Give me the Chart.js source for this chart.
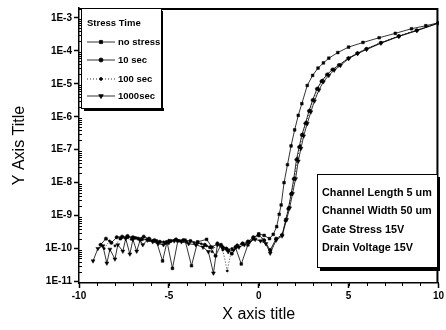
<!DOCTYPE html>
<html>
<head>
<meta charset="utf-8">
<script src="https://cdn.jsdelivr.net/npm/chart.js@4/dist/chart.umd.min.js"></script>
<style>
  html, body { margin: 0; padding: 0; background: #fff; }
  #wrap { width: 446px; height: 330px; }
</style>
</head>
<body>
<div id="wrap"><canvas id="ivChart" width="446" height="330"></canvas></div>
<script>
// tick labels
const yTickValues = [1e-11, 1e-10, 1e-9, 1e-8, 1e-7, 1e-6, 1e-5, 1e-4, 1e-3];
const yTickLabels = ['1E-11', '1E-10', '1E-9', '1E-8', '1E-7', '1E-6', '1E-5', '1E-4', '1E-3'];

const seriesNames = ['no stress', '10 sec', '100 sec', '1000sec'];
const infoLines = ['Channel Length 5 um', 'Channel Width 50 um', 'Gate Stress 15V', 'Drain Voltage 15V'];

// no stress
const noStressX = [-7.7, -7.3, -6.9, -6.5, -6.1, -5.7, -5.35, -5.1, -4.8, -4.5,
  -4.1, -3.74, -3.4, -2.9, -2.6, -2.3, -2.0, -1.7, -1.3, -0.97,
  -0.6, -0.3, 0.0, 0.3, 0.6, 0.81, 1.0, 1.14, 1.25, 1.41,
  1.6, 1.8, 2.0, 2.2, 2.4, 2.7, 3.0, 3.3, 3.6, 3.9,
  4.4, 5.0, 5.8, 6.7, 7.6, 8.5, 9.3, 10];
const noStressY = [2.0e-10, 2.2e-10, 2.1e-10, 1.9e-10, 1.8e-10, 1.7e-10, 4.2e-11, 1.6e-10, 2.5e-11, 1.7e-10,
  1.8e-10, 3.0e-11, 1.6e-10, 1.9e-10, 1.1e-10, 1.4e-10, 1.1e-10, 9.0e-11, 1.1e-10, 3.4e-11,
  1.3e-10, 2.0e-10, 2.8e-10, 2.5e-10, 2.0e-10, 2.7e-10, 4.6e-10, 1.1e-9, 2.1e-9, 1.0e-8,
  3.5e-8, 1.3e-7, 4.0e-7, 1.1e-6, 2.5e-6, 8.9e-6, 1.8e-5, 3.0e-5, 4.3e-5, 6.0e-5,
  8.9e-5, 1.3e-4, 1.8e-4, 2.5e-4, 3.4e-4, 4.7e-4, 5.8e-4, 7.1e-4];

// 10 sec
const sec10X = [-8.8, -8.5, -8.2, -7.9, -7.6, -7.3, -7.0, -6.7, -6.4, -6.1,
  -5.8, -5.5, -5.2, -4.9, -4.6, -4.2, -3.8, -3.4, -3.0, -2.7,
  -2.4, -2.1, -1.8, -1.5, -1.2, -0.9, -0.6, -0.3, 0.0, 0.3,
  0.64, 0.97, 1.3, 1.5, 1.65, 1.8, 1.95, 2.1, 2.25, 2.4,
  2.6, 2.8, 3.0, 3.24, 3.5, 3.8, 4.1, 4.46, 5.0, 5.5,
  6.0, 6.8, 7.8, 8.8, 10];
const sec10Y = [1.3e-10, 2.0e-10, 1.5e-10, 2.2e-10, 2.3e-10, 2.4e-10, 2.2e-10, 2.0e-10, 2.3e-10, 2.0e-10,
  1.8e-10, 1.6e-10, 1.5e-10, 1.7e-10, 1.9e-10, 1.8e-10, 1.7e-10, 1.5e-10, 1.3e-10, 1.1e-10,
  6.0e-11, 1.3e-10, 1.0e-10, 7.0e-11, 1.2e-10, 1.4e-10, 1.6e-10, 2.2e-10, 2.6e-10, 1.8e-10,
  9.0e-11, 2.0e-10, 2.6e-10, 7.1e-10, 1.6e-9, 4.5e-9, 1.3e-8, 5.0e-8, 1.2e-7, 2.8e-7,
  6.3e-7, 1.5e-6, 3.2e-6, 7.0e-6, 1.2e-5, 1.9e-5, 2.7e-5, 3.7e-5, 6.0e-5, 8.5e-5,
  1.15e-4, 1.75e-4, 2.8e-4, 4.2e-4, 7.0e-4];

// 100 sec
const sec100X = [-8.6, -8.3, -8.0, -7.7, -7.4, -7.1, -6.8, -6.5, -6.2, -5.9,
  -5.6, -5.3, -5.0, -4.7, -4.4, -4.0, -3.6, -3.2, -2.9, -2.6,
  -2.3, -2.0, -1.75, -1.5, -1.2, -0.9, -0.6, -0.3, 0.0, 0.3,
  0.64, 0.97, 1.3, 1.52, 1.68, 1.84, 2.0, 2.15, 2.3, 2.45,
  2.65, 2.85, 3.05, 3.3, 3.55, 3.85, 4.15, 4.5, 5.0, 5.5,
  6.0, 6.8, 7.8, 8.8, 10];
const sec100Y = [1.0e-10, 1.7e-10, 1.2e-10, 2.0e-10, 2.1e-10, 1.9e-10, 2.1e-10, 2.0e-10, 1.9e-10, 1.7e-10,
  1.6e-10, 1.6e-10, 1.8e-10, 1.8e-10, 1.7e-10, 1.6e-10, 1.5e-10, 1.4e-10, 1.2e-10, 8.0e-11,
  1.5e-10, 9.0e-11, 2.1e-11, 1.0e-10, 1.3e-10, 1.5e-10, 1.7e-10, 2.1e-10, 2.4e-10, 1.7e-10,
  8.0e-11, 1.9e-10, 2.5e-10, 8.0e-10, 1.8e-9, 5.0e-9, 1.4e-8, 5.5e-8, 1.3e-7, 3.0e-7,
  7.0e-7, 1.6e-6, 3.4e-6, 7.5e-6, 1.3e-5, 2.0e-5, 2.8e-5, 3.8e-5, 6.1e-5, 8.7e-5,
  1.17e-4, 1.8e-4, 2.85e-4, 4.3e-4, 7.1e-4];

// 1000 sec
const sec1000X = [-9.22, -8.95, -8.67, -8.45, -8.28, -8.0, -7.84, -7.56, -7.4, -7.17,
  -7.0, -6.79, -6.6, -6.45, -6.2, -5.9, -5.6, -5.3, -5.0, -4.7,
  -4.3, -3.9, -3.5, -3.1, -2.8, -2.52, -2.3, -2.0, -1.7, -1.4,
  -1.1, -0.8, -0.5, -0.2, 0.1, 0.4, 0.64, 0.97, 1.3, 1.55,
  1.72, 1.88, 2.05, 2.2, 2.35, 2.5, 2.7, 2.9, 3.1, 3.35,
  3.6, 3.9, 4.2, 4.55, 5.0, 5.5, 6.0, 6.8, 7.8, 8.8,
  10];
const sec1000Y = [4.2e-11, 1.0e-10, 1.2e-10, 3.6e-11, 9.5e-11, 4.8e-11, 1.3e-10, 8.3e-11, 2.0e-10, 6.8e-11,
  1.9e-10, 8.3e-11, 1.8e-10, 1.3e-10, 1.8e-10, 1.6e-10, 1.4e-10, 1.3e-10, 1.5e-10, 1.7e-10,
  1.6e-10, 1.4e-10, 1.3e-10, 1.1e-10, 8.0e-11, 1.8e-11, 1.3e-10, 1.0e-10, 8.0e-11, 9.0e-11,
  1.1e-10, 1.3e-10, 1.6e-10, 1.9e-10, 1.7e-10, 1.4e-10, 7.2e-11, 1.8e-10, 2.4e-10, 7.5e-10,
  1.7e-9, 4.6e-9, 1.3e-8, 4.5e-8, 1.1e-7, 2.6e-7, 6.2e-7, 1.4e-6, 3.0e-6, 6.5e-6,
  1.15e-5, 1.8e-5, 2.6e-5, 3.6e-5, 5.8e-5, 8.2e-5, 1.1e-4, 1.7e-4, 2.75e-4, 4.1e-4,
  6.9e-4];

const narrow = "'Liberation Sans Narrow', 'Arial Narrow', 'Liberation Sans', Arial, sans-serif";

function pts(xs, ys) {
  return xs.map((x, i) => ({ x: x, y: ys[i] }));
}

const styles = [
  { pointStyle: 'rect', pointRadius: 1.9, borderDash: [], pointRotation: 0 },
  { pointStyle: 'circle', pointRadius: 1.7, borderDash: [], pointRotation: 0 },
  { pointStyle: 'circle', pointRadius: 1.1, borderDash: [1, 2], pointRotation: 0 },
  { pointStyle: 'triangle', pointRadius: 2.3, borderDash: [], pointRotation: 180 }
];

const allX = [noStressX, sec10X, sec100X, sec1000X];
const allY = [noStressY, sec10Y, sec100Y, sec1000Y];

const datasets = seriesNames.map((name, i) => ({
  label: name,
  data: pts(allX[i], allY[i]),
  borderColor: '#000',
  backgroundColor: '#000',
  borderWidth: 0.8,
  borderDash: styles[i].borderDash,
  pointStyle: styles[i].pointStyle,
  pointRadius: styles[i].pointRadius,
  pointRotation: styles[i].pointRotation,
  pointBorderWidth: 0.5,
  tension: 0
}));

// frame, minor ticks, legend box and info box
const decorPlugin = {
  id: 'decor',
  afterDraw(chart) {
    const ctx = chart.ctx;
    const a = chart.chartArea;
    const xs = chart.scales.x;
    const ys = chart.scales.y;
    ctx.save();
    ctx.strokeStyle = '#000';
    ctx.fillStyle = '#000';

    // minor ticks
    ctx.lineWidth = 1;
    ctx.beginPath();
    for (let v = -10; v <= 10; v++) {
      const px = Math.round(xs.getPixelForValue(v)) + 0.5;
      ctx.moveTo(px, a.bottom);
      ctx.lineTo(px, a.bottom + 3);
    }
    for (let d = 0; d < yTickValues.length - 1; d++) {
      for (let m = 2; m <= 9; m++) {
        const py = Math.round(ys.getPixelForValue(yTickValues[d] * m)) + 0.5;
        ctx.moveTo(a.left, py);
        ctx.lineTo(a.left + 3, py);
      }
    }
    ctx.stroke();

    // frame
    ctx.lineWidth = 2;
    ctx.beginPath();
    ctx.moveTo(a.left, a.top + 1);
    ctx.lineTo(a.right - 1, a.top + 1);
    ctx.lineTo(a.right - 1, a.bottom);
    ctx.stroke();

    // legend box
    const lx = a.left + 2, ly = a.top, lw = 80, lh = 100;
    ctx.fillStyle = '#fff';
    ctx.fillRect(lx, ly, lw, lh);
    ctx.lineWidth = 1;
    ctx.strokeRect(lx + 0.5, ly + 0.5, lw, lh);
    ctx.fillStyle = '#000';
    ctx.fillRect(lx + 3, ly + lh, lw, 3);
    ctx.fillRect(lx + lw, ly + 3, 2, lh);

    ctx.font = "bold 9.5px " + narrow;
    ctx.textBaseline = 'middle';
    ctx.textAlign = 'left';
    ctx.fillText('Stress Time', lx + 6, ly + 15);
    const rowY = [34, 52, 71, 88];
    chart.data.datasets.forEach((ds, i) => {
      const y = ly + rowY[i];
      ctx.strokeStyle = '#000';
      ctx.lineWidth = 0.8;
      ctx.setLineDash(ds.borderDash);
      ctx.beginPath();
      ctx.moveTo(lx + 6, y);
      ctx.lineTo(lx + 34, y);
      ctx.stroke();
      ctx.setLineDash([]);
      Chart.helpers.drawPoint(ctx, {
        pointStyle: ds.pointStyle,
        radius: ds.pointRadius + 0.3,
        rotation: ds.pointRotation,
        borderWidth: 0.5
      }, lx + 20, y);
      ctx.fillStyle = '#000';
      ctx.fillText(ds.label, lx + 37, y);
    });

    // info box
    const bx = 317, by = 174, bw = 120, bh = 93;
    ctx.fillStyle = '#fff';
    ctx.fillRect(bx, by, bw, bh);
    ctx.strokeStyle = '#000';
    ctx.lineWidth = 1;
    ctx.strokeRect(bx + 0.5, by + 0.5, bw, bh);
    ctx.fillStyle = '#000';
    ctx.fillRect(bx + 3, by + bh, bw, 4);
    ctx.fillRect(bx + bw, by + 3, 3, bh);
    ctx.font = "bold 10.8px " + narrow;
    infoLines.forEach((t, i) => {
      ctx.fillText(t, bx + 5, by + 19 + i * 18.3);
    });
    ctx.restore();
  }
};

new Chart(document.getElementById('ivChart'), {
  type: 'line',
  data: { datasets: datasets },
  options: {
    responsive: false,
    animation: false,
    layout: { padding: { top: 3, right: 6, left: 0, bottom: 0 } },
    plugins: {
      legend: { display: false },
      tooltip: { enabled: false }
    },
    scales: {
      x: {
        type: 'linear',
        min: -10,
        max: 10,
        ticks: {
          stepSize: 5,
          color: '#000',
          font: { family: narrow, size: 10, weight: 'bold' },
          padding: 2,
          maxRotation: 0
        },
        grid: { drawOnChartArea: false, color: '#000', tickLength: 5, tickWidth: 1.5 },
        border: { color: '#000', width: 1.5 },
        title: {
          display: true,
          text: 'X axis title',
          color: '#000',
          font: { family: narrow, size: 16 },
          padding: { top: 6, bottom: 6 }
        },
        afterFit: s => { s.height = 47; }
      },
      y: {
        type: 'logarithmic',
        min: 9e-12,
        max: 2e-3,
        afterBuildTicks: axis => { axis.ticks = yTickValues.map(v => ({ value: v })); },
        ticks: {
          color: '#000',
          font: { family: narrow, size: 10, weight: 'bold' },
          padding: 2,
          callback: (v, i) => yTickLabels[i]
        },
        grid: { drawOnChartArea: false, color: '#000', tickLength: 5, tickWidth: 1.5 },
        border: { color: '#000', width: 1.5 },
        title: {
          display: true,
          text: 'Y Axis Title',
          color: '#000',
          font: { family: narrow, size: 16 },
          padding: { top: 10, bottom: 6 }
        },
        afterFit: s => { s.width = 79; }
      }
    }
  },
  plugins: [decorPlugin]
});
</script>
</body>
</html>
